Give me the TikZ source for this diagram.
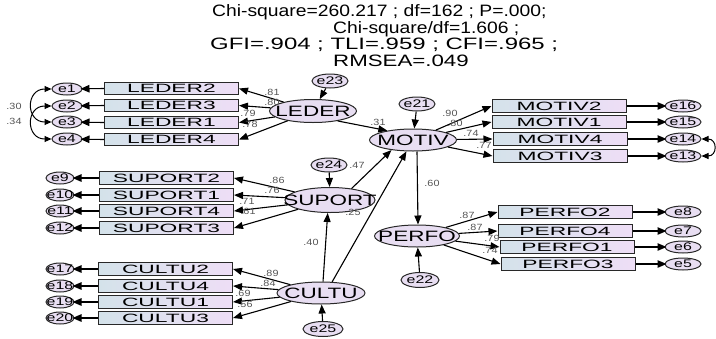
\documentclass[tikz,border=0pt]{standalone}
\usepackage{fontspec}
\setmainfont{Liberation Sans}
\newfontfamily\titlef[FakeStretch=1.45]{Liberation Sans}
\newfontfamily\titlefa[FakeStretch=1.17]{Liberation Sans}
\newfontfamily\titlefb[FakeStretch=1.17]{Liberation Sans}
\newfontfamily\titlefc[FakeStretch=1.35]{Liberation Sans}
\newfontfamily\boxf[FakeStretch=1.9]{Liberation Sans}
\newfontfamily\latf[FakeStretch=1.5]{Liberation Sans}
\newfontfamily\errf[FakeStretch=1.45]{Liberation Sans}
\newfontfamily\labf[FakeStretch=1.2]{Liberation Sans}
\usetikzlibrary{arrows.meta,shapes.geometric}
\definecolor{boxL}{RGB}{212,226,234}
\definecolor{boxR}{RGB}{238,222,246}
\definecolor{ellF}{RGB}{232,222,242}
\definecolor{labc}{RGB}{85,85,85}
\definecolor{edge}{RGB}{40,40,40}
\tikzset{
  ind/.style={draw=edge, line width=1pt, left color=boxL, right color=boxR, minimum width=134pt, minimum height=12.5pt, inner sep=0pt, font=\boxf\fontsize{12}{12}\selectfont},
  latent/.style={ellipse, draw=edge, line width=1pt, fill=ellF, inner sep=0pt},
  errell/.style={ellipse, draw=edge, line width=1pt, fill=ellF, inner sep=0pt},
  lattxt/.style={inner sep=0pt, font=\latf\fontsize{15}{15}\selectfont},
  errtxt/.style={inner sep=0pt, font=\errf\fontsize{11}{11}\selectfont},
  lab/.style={text=labc, inner sep=0pt, font=\labf\fontsize{9}{9}\selectfont},
  arr/.style={line width=1.1pt, -{Triangle[length=9pt,width=7pt]}},
  earr/.style={line width=1.1pt, -{Triangle[length=9pt,width=7.5pt]}, shorten >=-2pt},
  cov/.style={line width=1pt, {Triangle[length=7pt,width=6pt]}-{Triangle[length=7pt,width=6pt]}},
  ttl/.style={inner sep=0pt, anchor=west, font=\titlef\fontsize{16.5}{16.5}\selectfont}
}
\newcommand\latnode[5]{\node[latent, minimum width=#3pt, minimum height=#4pt] (#1) at (#2) {}; \node[lattxt] at (#1) {#5};}
\newcommand\errnode[5]{\node[errell, minimum width=#3pt, minimum height=#4pt] (#1) at (#2) {}; \node[errtxt] at (#1) {#5};}
\begin{document}
\begin{tikzpicture}[x=1pt,y=-1pt]
\useasboundingbox (0,0) rectangle (716,338);
% title
\node[ttl, font=\titlefa\fontsize{16.5}{16.5}\selectfont] (t1) at (212,12) {Chi-square=260.217 ; df=162 ; P=.000;};
\node[ttl, font=\titlefb\fontsize{16.5}{16.5}\selectfont] (t2) at (333,29) {Chi-square/df=1.606 ;};
\node[ttl] (t3) at (210,45) {GFI=.904 ; TLI=.959 ; CFI=.965 ;};
\node[ttl, font=\titlefc\fontsize{16.5}{16.5}\selectfont] (t4) at (333,61) {RMSEA=.049};
% latent variables
\latnode{LEDER}{313,111}{87}{23}{LEDER}
\latnode{MOTIV}{413,140}{87}{22}{MOTIV}
\latnode{SUPORT}{330,200}{90}{25}{SUPORT}
\latnode{CULTU}{321,293}{88}{22}{CULTU}
\latnode{PERFO}{417,236}{85}{22}{PERFO}
% structural errors
\errnode{e23}{330,81}{36}{14}{e23}
\errnode{e21}{417,104}{36}{14}{e21}
\errnode{e24}{329,165}{36}{14}{e24}
\errnode{e25}{323,329}{40}{15}{e25}
\errnode{e22}{420,280}{38}{15}{e22}
% LEDER indicators
\node[ind] (L2) at (171.5,88.5) {LEDER2};
\node[ind] (L3) at (171.5,105.5) {LEDER3};
\node[ind] (L1) at (171.5,122.5) {LEDER1};
\node[ind] (L4) at (171.5,139.5) {LEDER4};
\errnode{e1}{67,89}{30}{12}{e1}
\errnode{e2}{67,106}{30}{12}{e2}
\errnode{e3}{67,122}{30}{12}{e3}
\errnode{e4}{67,139}{30}{12}{e4}
% SUPORT indicators
\node[ind] (S2) at (166.5,178) {SUPORT2};
\node[ind] (S1) at (166.5,195) {SUPORT1};
\node[ind] (S4) at (166.5,211) {SUPORT4};
\node[ind] (S3) at (166.5,228) {SUPORT3};
\errnode{e9}{60,178}{28}{12}{e9}
\errnode{e10}{60,195}{28}{12}{e10}
\errnode{e11}{60,211}{28}{12}{e11}
\errnode{e12}{60,228}{28}{12}{e12}
% CULTU indicators
\node[ind] (C2) at (165.5,269) {CULTU2};
\node[ind] (C4) at (165.5,286) {CULTU4};
\node[ind] (C1) at (165.5,302) {CULTU1};
\node[ind] (C3) at (165.5,318) {CULTU3};
\errnode{e17}{60,269}{28}{12}{e17}
\errnode{e18}{60,286}{28}{12}{e18}
\errnode{e19}{60,302}{28}{12}{e19}
\errnode{e20}{60,318}{28}{12}{e20}
% MOTIV indicators
\node[ind] (M2) at (559,106) {MOTIV2};
\node[ind] (M1) at (559,122) {MOTIV1};
\node[ind] (M4) at (560,139) {MOTIV4};
\node[ind] (M3) at (560,156) {MOTIV3};
\errnode{e16}{683,106}{36}{12}{e16}
\errnode{e15}{683,122}{36}{12}{e15}
\errnode{e14}{683,139}{36}{12}{e14}
\errnode{e13}{683,156}{36}{12}{e13}
% PERFO indicators
\node[ind] (P2) at (565,212) {PERFO2};
\node[ind] (P4) at (565,231) {PERFO4};
\node[ind] (P1) at (567,247) {PERFO1};
\node[ind] (P3) at (568,264) {PERFO3};
\errnode{e8}{683,212}{36}{12}{e8}
\errnode{e7}{683,231}{36}{12}{e7}
\errnode{e6}{683,247}{36}{12}{e6}
\errnode{e5}{683,264}{36}{12}{e5}
% structural error arrows
\draw[arr] (e23) -- (LEDER);
\draw[arr] (e21) -- (MOTIV);
\draw[arr] (e24) -- (SUPORT);
\draw[arr] (e25) -- (CULTU);
\draw[arr] (e22) -- (PERFO);
% structural paths
\draw[arr] (LEDER.-22) -- (MOTIV.160);
\draw[arr] (SUPORT.28) -- (MOTIV.205);
\draw[arr] (CULTU.45) -- (MOTIV.240);
\draw[arr] (CULTU.80) -- (SUPORT.260);
\draw[arr] ([xshift=4pt]MOTIV.south) -- ([xshift=1pt]PERFO.north);
% loadings
\foreach \b in {L2,L3,L1,L4} \draw[arr] (LEDER) -- (\b.east);
\foreach \b in {S2,S1,S4,S3} \draw[arr] (SUPORT) -- (\b.east);
\foreach \b in {C2,C4,C1,C3} \draw[arr] (CULTU) -- (\b.east);
\foreach \b in {M2,M1,M4,M3} \draw[arr] (MOTIV) -- (\b.west);
\foreach \b in {P2,P4,P1,P3} \draw[arr] (PERFO) -- (\b.west);
% error connectors
\foreach \e/\b in {e1/L2,e2/L3,e3/L1,e4/L4,e9/S2,e10/S1,e11/S4,e12/S3,e17/C2,e18/C4,e19/C1,e20/C3}
  \draw[earr] (\b.west) -- (\e);
\foreach \e/\b in {e16/M2,e15/M1,e14/M4,e13/M3,e8/P2,e7/P4,e6/P1,e5/P3}
  \draw[earr] (\b.east) -- (\e);
% covariances
\draw[cov] (e1.west) .. controls +(-26,0) and +(-26,0) .. (e3.west);
\draw[cov] (e2.west) .. controls +(-26,0) and +(-26,0) .. (e4.west);
\draw[cov] (e14.east) .. controls +(16,0) and +(16,0) .. (e13.east);
% labels
\node[lab] at (14,106) {.30};
\node[lab] at (14,121) {.34};
\node[lab] at (272,92) {.81};
\node[lab] at (272,102) {.80};
\node[lab] at (248,113) {.79};
\node[lab] at (250,124) {.78};
\node[lab] at (378,122) {.31};
\node[lab] at (277,180) {.86};
\node[lab] at (272,190) {.76};
\node[lab] at (247,201) {.71};
\node[lab] at (248,211) {.61};
\node[lab] at (357,165) {.47};
\node[lab] at (353,212) {.25};
\node[lab] at (311,242) {.40};
\node[lab] at (271,273) {.89};
\node[lab] at (268,283) {.84};
\node[lab] at (243,293) {.69};
\node[lab] at (245,304) {.56};
\node[lab] at (450,113) {.90};
\node[lab] at (455,123) {.80};
\node[lab] at (471,133) {.74};
\node[lab] at (484,145) {.77};
\node[lab] at (432,183) {.60};
\node[lab] at (467,215) {.87};
\node[lab] at (475,227) {.87};
\node[lab] at (492,238) {.79};
\node[lab] at (490,250) {.74};
\end{tikzpicture}
\end{document}
